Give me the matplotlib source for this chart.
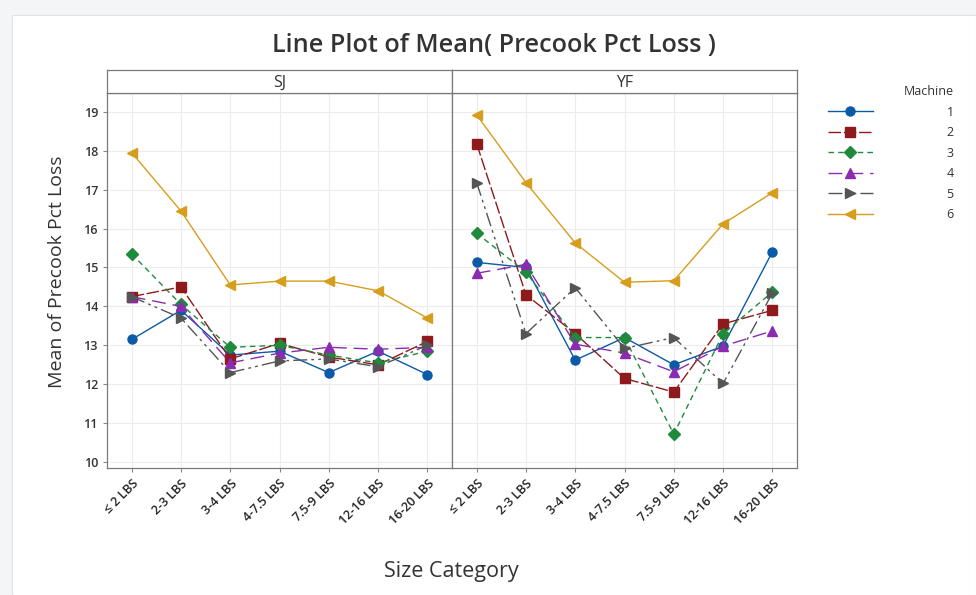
import matplotlib.pyplot as plt
from matplotlib.lines import Line2D
from matplotlib.patches import Rectangle

plt.rcParams['font.family'] = ['Open Sans', 'DejaVu Sans']

# data
sizes = ["≤ 2 LBS", "2-3 LBS", "3-4 LBS", "4-7.5 LBS", "7.5-9 LBS", "12-16 LBS", "16-20 LBS"]
panels = ["SJ", "YF"]
machines = ["1", "2", "3", "4", "5", "6"]

sj_m1 = [13.15, 13.9, 12.75, 12.85, 12.3, 12.85, 12.25]
sj_m2 = [14.25, 14.5, 12.65, 13.05, 12.7, 12.5, 13.1]
sj_m3 = [15.35, 14.05, 12.95, 13.0, 12.75, 12.55, 12.85]
sj_m4 = [14.25, 14.0, 12.55, 12.8, 12.95, 12.9, 12.95]
sj_m5 = [14.25, 13.7, 12.3, 12.6, 12.65, 12.45, 13.0]
sj_m6 = [17.95, 16.45, 14.55, 14.65, 14.65, 14.4, 13.7]

yf_m1 = [15.13, 15.0, 12.62, 13.2, 12.5, 12.98, 15.4]
yf_m2 = [18.18, 14.3, 13.3, 12.15, 11.8, 13.55, 13.9]
yf_m3 = [15.88, 14.88, 13.2, 13.2, 10.72, 13.3, 14.37]
yf_m4 = [14.85, 15.08, 13.03, 12.8, 12.32, 12.98, 13.37]
yf_m5 = [17.18, 13.3, 14.48, 12.92, 13.2, 12.02, 14.34]
yf_m6 = [18.92, 17.18, 15.63, 14.62, 14.66, 16.12, 16.92]

sj_data = [sj_m1, sj_m2, sj_m3, sj_m4, sj_m5, sj_m6]
yf_data = [yf_m1, yf_m2, yf_m3, yf_m4, yf_m5, yf_m6]

colors = ["#0b5aa8", "#8e1a1e", "#1f8a3c", "#8a2bb0", "#555555", "#d69e1c"]
markers = ["o", "s", "D", "^", ">", "<"]
styles = ["-", (0, (9, 2)), (0, (4, 3)), (0, (10, 5)), (0, (10, 3, 2, 3, 2, 3)), "-"]

fig = plt.figure(figsize=(9.76, 5.95), dpi=100, facecolor="#f4f5f7")
fig.patches.append(Rectangle((0.012, 0.0), 0.988, 0.975, transform=fig.transFigure,
                             facecolor="white", edgecolor="#e2e2e2", lw=0.8, zorder=-1))

W, H = 976, 595
left, mid, right = 107, 452, 797
top, bottom, strip_top = 93, 468, 70

axes = []
for i, (name, data) in enumerate(zip(panels, [sj_data, yf_data])):
    x0 = [left, mid][i]
    ax = fig.add_axes([x0 / W, 1 - bottom / H, (mid - left) / W, (bottom - top) / H])
    axes.append(ax)
    xs = range(len(sizes))
    for j, vals in enumerate(data):
        ax.plot(xs, vals, color=colors[j], marker=markers[j], linestyle=styles[j],
                lw=1.0, markersize=6.5, zorder=3)
    ax.set_xlim(-0.5, 6.5)
    ax.set_ylim(9.85, 19.48)
    ax.set_yticks(range(10, 20))
    ax.set_xticks(list(xs))
    ax.set_xticklabels(sizes, rotation=45, ha="right", rotation_mode="anchor",
                       fontsize=9, color="#222222", fontweight="semibold")
    ax.grid(True, color="#ececec", lw=0.8, zorder=0)
    ax.tick_params(axis="both", length=3, color="#888888", labelsize=9)
    for s in ax.spines.values():
        s.set_color("#7a7a7a")
        s.set_linewidth(0.9)
    if i == 0:
        for lab in ax.get_yticklabels():
            lab.set_fontweight("semibold")
            lab.set_color("#333333")
    else:
        ax.tick_params(axis="y", left=False, labelleft=False)

    # strip
    sax = fig.add_axes([x0 / W, 1 - top / H, (mid - left) / W, (top - strip_top) / H])
    sax.set_xticks([])
    sax.set_yticks([])
    for s in sax.spines.values():
        s.set_color("#7a7a7a")
        s.set_linewidth(0.9)
    sax.text(0.5, 0.45, name, ha="center", va="center", fontsize=11.5, color="#333333",
             transform=sax.transAxes)

fig.text(494 / W, 1 - 45 / H, "Line Plot of Mean( Precook Pct Loss )", ha="center", va="center",
         fontsize=18.2, color="#333333", fontweight="semibold")
fig.text(57 / W, 1 - 272 / H, "Mean of Precook Pct Loss", rotation=90, ha="center", va="center",
         fontsize=14, color="#333333", fontweight="medium")
fig.text(451 / W, 1 - 572 / H, "Size Category", ha="center", va="center",
         fontsize=15.5, color="#333333", fontweight="medium")

handles = [Line2D([], [], color=colors[j], marker=markers[j], linestyle=styles[j],
                  lw=1.0, markersize=6.5) for j in range(len(machines))]
leg = fig.legend(handles, machines, loc="upper right", bbox_to_anchor=(965 / W, 1 - 74 / H),
                 frameon=False, title="Machine", fontsize=9, title_fontsize=9,
                 handlelength=3.6, handletextpad=5.9, labelspacing=0.6, alignment="right")
leg.get_title().set_color("#333333")
for t in leg.get_texts():
    t.set_color("#333333")

fig.savefig("out.png", dpi=100, facecolor=fig.get_facecolor())
